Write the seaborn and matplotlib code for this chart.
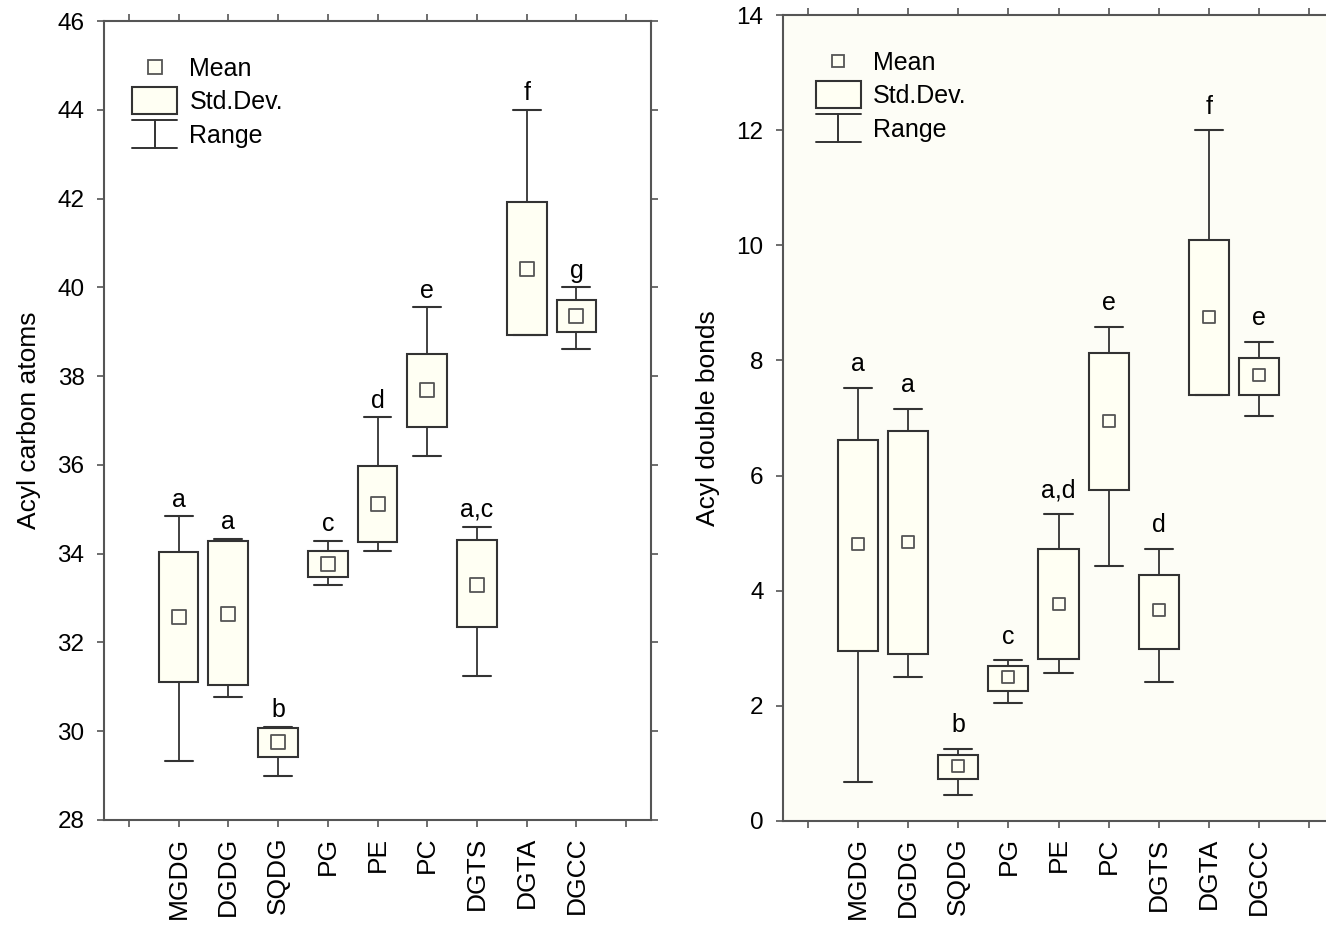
import matplotlib
matplotlib.use("Agg")
import matplotlib.pyplot as plt
import seaborn as sns
from matplotlib.lines import Line2D
from matplotlib.patches import Rectangle
from matplotlib.legend_handler import HandlerBase, HandlerPatch

# lipid classes on the x axis
groups = ["MGDG", "DGDG", "SQDG", "PG", "PE", "PC", "DGTS", "DGTA", "DGCC"]

# acyl carbon atoms (left panel)
carbon_mean = [32.57, 32.65, 29.75, 33.77, 35.12, 37.68, 33.30, 40.42, 39.35]
carbon_sd_low = [31.12, 31.05, 29.41, 33.47, 34.26, 36.86, 32.34, 38.92, 38.99]
carbon_sd_high = [34.04, 34.28, 30.07, 34.06, 35.97, 38.50, 34.31, 41.93, 39.72]
carbon_min = [29.33, 30.77, 29.00, 33.29, 34.07, 36.20, 31.25, 38.92, 38.61]
carbon_max = [34.84, 34.34, 30.10, 34.29, 37.07, 39.55, 34.61, 44.00, 40.00]
carbon_letters = ["a", "a", "b", "c", "d", "e", "a,c", "f", "g"]

# acyl double bonds (right panel)
bond_mean = [4.81, 4.84, 0.95, 2.50, 3.76, 6.95, 3.66, 8.75, 7.75]
bond_sd_low = [2.95, 2.89, 0.73, 2.26, 2.81, 5.74, 2.99, 7.40, 7.40]
bond_sd_high = [6.62, 6.77, 1.15, 2.69, 4.72, 8.13, 4.27, 10.10, 8.05]
bond_min = [0.67, 2.50, 0.45, 2.05, 2.57, 4.42, 2.41, 7.40, 7.04]
bond_max = [7.53, 7.16, 1.25, 2.79, 5.33, 8.59, 4.72, 12.00, 8.32]
bond_letters = ["a", "a", "b", "c", "a,d", "e", "d", "f", "e"]

sns.set_theme(style="ticks")
plt.rcParams["font.family"] = ["Liberation Sans", "DejaVu Sans"]
plt.rcParams.update({"text.color": "black", "axes.labelcolor": "black",
                     "xtick.labelcolor": "black", "ytick.labelcolor": "black"})

LINE = "#333333"
EDGE = "#555555"
CREAM = "#fffff3"
PANEL_BG = "#fdfdf6"


class RangeHandle(Line2D):
    pass


class RangeHandler(HandlerBase):
    def create_artists(self, legend, orig_handle, xdescent, ydescent,
                       width, height, fontsize, trans):
        x0 = -xdescent
        x1 = x0 + width
        xm = (x0 + x1) / 2
        yc = height / 2 - ydescent
        half = 10
        arts = [Line2D([x0, x1], [yc + half, yc + half]),
                Line2D([x0, x1], [yc - half, yc - half]),
                Line2D([xm, xm], [yc - half, yc + half])]
        for a in arts:
            a.set_color(LINE)
            a.set_linewidth(1.4)
            a.set_transform(trans)
        return arts


def tall_box(legend, orig_handle, xdescent, ydescent, width, height, fontsize):
    return Rectangle((-xdescent, height / 2 - ydescent - 9.7), width, 19.4)


def draw_panel(ax, means, lows, highs, mins, maxs, letters, ylim, ylabel,
               marker_s, letter_pad, legend_anchor, bg):
    pos = list(range(len(groups)))
    stats = []
    for m, lo, hi, mn, mx in zip(means, lows, highs, mins, maxs):
        stats.append(dict(med=m, q1=lo, q3=hi, whislo=mn, whishi=mx, fliers=[]))
    ax.set_facecolor(bg)
    ax.bxp(stats, positions=pos, widths=0.8, capwidths=0.56, patch_artist=True,
           showfliers=False, manage_ticks=False,
           boxprops=dict(facecolor=CREAM, edgecolor=LINE, linewidth=1.5),
           whiskerprops=dict(color=LINE, linewidth=1.3),
           capprops=dict(color=LINE, linewidth=1.5),
           medianprops=dict(linewidth=0))
    sns.scatterplot(x=pos, y=means, marker="s", s=marker_s, color=CREAM,
                    edgecolor=EDGE, linewidth=1.3, ax=ax, zorder=5)
    for x, top, lab in zip(pos, maxs, letters):
        ax.annotate(lab, (x, top), xytext=(0, letter_pad), textcoords="offset points",
                    ha="center", va="baseline", fontsize=18)

    ax.set_xlim(-1.5, 9.5)
    ax.set_ylim(*ylim)
    ax.set_yticks(range(ylim[0], ylim[1] + 1, 2))
    ax.set_xticks(range(-1, 10))
    ax.set_xticklabels([""] + groups + [""], rotation=90, fontsize=19)
    ax.tick_params(axis="both", direction="out", length=5, width=1.2, color=EDGE,
                   top=True, right=True, labeltop=False, labelright=False)
    ax.tick_params(axis="x", pad=7)
    ax.tick_params(axis="y", labelsize=17.5, pad=9)
    ax.set_ylabel(ylabel, fontsize=19, labelpad=12)
    for sp in ax.spines.values():
        sp.set_color(EDGE)
        sp.set_linewidth(1.5)

    mean_h = Line2D([], [], marker="s", ls="none", markersize=marker_s ** 0.5,
                    markerfacecolor=CREAM, markeredgecolor=EDGE, markeredgewidth=1.3)
    box_h = Rectangle((0, 0), 1, 1, facecolor=CREAM, edgecolor=LINE, linewidth=1.5)
    range_h = RangeHandle([], [])
    ax.legend([mean_h, box_h, range_h], ["Mean", "Std.Dev.", "Range"],
              loc="upper left", bbox_to_anchor=legend_anchor, frameon=False,
              fontsize=18, handlelength=1.78, handletextpad=0.5,
              labelspacing=0.38, borderpad=0, borderaxespad=0,
              handler_map={box_h: HandlerPatch(patch_func=tall_box),
                           RangeHandle: RangeHandler()})


fig = plt.figure(figsize=(13.26, 9.31), dpi=100)
ax1 = fig.add_axes([104 / 1326, (931 - 820) / 931, 547 / 1326, 799 / 931])
ax2 = fig.add_axes([783 / 1326, (931 - 820.7) / 931, 551 / 1326, 805.4 / 931])

draw_panel(ax1, carbon_mean, carbon_sd_low, carbon_sd_high, carbon_min, carbon_max,
           carbon_letters, (28, 46), "Acyl carbon atoms", 90, 7, (0.052, 0.955), "white")
draw_panel(ax2, bond_mean, bond_sd_low, bond_sd_high, bond_min, bond_max,
           bond_letters, (0, 14), "Acyl double bonds", 64, 12, (0.060, 0.956), PANEL_BG)

fig.savefig("out.png", dpi=100)
